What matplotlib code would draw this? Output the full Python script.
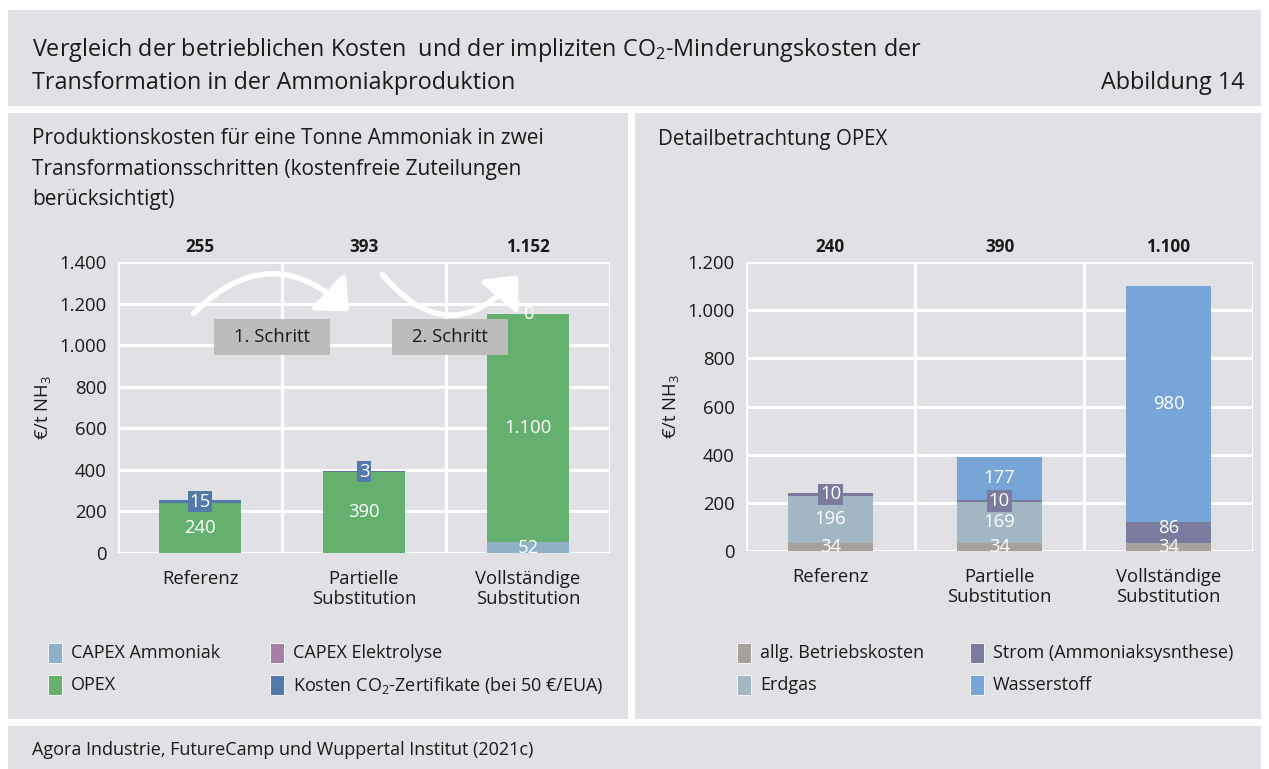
import matplotlib
matplotlib.use("Agg")
import matplotlib.pyplot as plt
from matplotlib.patches import Rectangle, FancyArrowPatch

plt.rcParams['font.family'] = ['Open Sans', 'DejaVu Sans']
plt.rcParams['mathtext.fontset'] = 'custom'
plt.rcParams['mathtext.rm'] = 'Open Sans'
plt.rcParams['mathtext.it'] = 'Open Sans'

# --- data ---
categories = ["Referenz", "Partielle\nSubstitution", "Vollständige\nSubstitution"]

left_series = ["CAPEX Ammoniak", "CAPEX Elektrolyse", "OPEX",
               "Kosten CO$_2$-Zertifikate (bei 50 €/EUA)"]
capex_ammoniak = [0, 0, 52]
capex_elektrolyse = [0, 0, 0]
opex = [240, 390, 1100]
co2_kosten = [15, 3, 0]
left_totals = [255, 393, 1152]

right_series = ["allg. Betriebskosten", "Erdgas", "Strom (Ammoniaksysnthese)", "Wasserstoff"]
betriebskosten = [34, 34, 34]
erdgas = [196, 169, 0]
strom = [10, 10, 86]
wasserstoff = [0, 177, 980]
right_totals = [240, 390, 1100]

left_colors = ["#8fb0c7", "#a57fa8", "#65b06f", "#5379ab"]
right_colors = ["#a6a19d", "#a3b6c3", "#7a7b9f", "#78a5d7"]

PANEL = "#e1e0e5"
TXT = "#1a1a1a"
W, H = 1269, 769

fig = plt.figure(figsize=(W / 100, H / 100), dpi=100)
fig.patch.set_facecolor("white")


def rect_px(x0, y0, x1, y1):
    return [x0 / W, 1 - y1 / H, (x1 - x0) / W, (y1 - y0) / H]


def panel(x0, y0, x1, y1):
    l, b, w, h = rect_px(x0, y0, x1, y1)
    fig.add_artist(Rectangle((l, b), w, h, transform=fig.transFigure,
                             facecolor=PANEL, edgecolor="none", zorder=0))


def ftext(x, y, s, **kw):
    kw.setdefault("va", "center")
    kw.setdefault("color", TXT)
    fig.text(x / W, 1 - y / H, s, **kw)


panel(8, 10, 1261, 106)
panel(8, 113, 628, 719)
panel(635, 113, 1261, 719)
panel(8, 726, 1261, 775)

# titles
ftext(32, 50, "Vergleich der betrieblichen Kosten  und der impliziten CO$_2$-Minderungskosten der", fontsize=16.8)
ftext(32, 83, "Transformation in der Ammoniakproduktion", fontsize=16.8)
ftext(1245, 83, "Abbildung 14", fontsize=16.8, ha="right")
ftext(32, 138, "Produktionskosten für eine Tonne Ammoniak in zwei", fontsize=15)
ftext(32, 169, "Transformationsschritten (kostenfreie Zuteilungen", fontsize=15)
ftext(32, 199, "berücksichtigt)", fontsize=15)
ftext(658, 140, "Detailbetrachtung OPEX", fontsize=14.8)
ftext(32, 750, "Agora Industrie, FutureCamp und Wuppertal Institut (2021c)", fontsize=13)


def fmt(v):
    return f"{v:,.0f}".replace(",", ".")


def stacked(ax, series_vals, colors, always_label, ymax, totals, px_per_unit):
    ax.set_facecolor(PANEL)
    ax.set_xlim(-0.5, 2.5)
    ax.set_ylim(0, ymax)
    ax.set_yticks(range(0, ymax + 1, 200))
    ax.set_yticklabels([fmt(t) for t in range(0, ymax + 1, 200)])
    ax.grid(axis="y", color="white", lw=2.2)
    for xv in [-0.5, 0.5, 1.5, 2.5]:
        ax.axvline(xv, color="white", lw=2.2, zorder=0.5)
    ax.set_axisbelow(True)
    for s in ax.spines.values():
        s.set_visible(False)
    ax.tick_params(length=0, labelsize=13.3, colors=TXT)
    ax.tick_params(axis="y", pad=8)
    ax.tick_params(axis="x", pad=12)
    ax.set_xticks(range(len(categories)))
    ax.set_xticklabels(categories, linespacing=1.15)
    ax.set_ylabel("€/t NH$_3$", fontsize=13.3, color=TXT, labelpad=5)

    min_gap = 19 / px_per_unit  # keep stacked labels from colliding
    x = list(range(len(categories)))
    bottom = [0] * len(categories)
    last_label = [-1e9] * len(categories)
    for k, (vals, col) in enumerate(zip(series_vals, colors)):
        ax.bar(x, vals, 0.5, bottom=bottom, color=col, zorder=2)
        for i, v in enumerate(vals):
            if v > 0 or k in always_label:
                yc = bottom[i] + v / 2
                if v >= 25:
                    yc = max(yc, last_label[i] + min_gap)
                last_label[i] = yc
                kw = {}
                if 0 < v < 25:
                    kw["bbox"] = dict(boxstyle="square,pad=0.1", facecolor=col, edgecolor="none")
                ax.text(i, yc, fmt(v), ha="center", va="center", color="white",
                        fontsize=13.3, zorder=4, **kw)
        bottom = [b + v for b, v in zip(bottom, vals)]
    for i, t in enumerate(totals):
        ax.text(i, ymax * 1.052, fmt(t), ha="center", va="center",
                fontsize=12.3, fontweight="bold", color=TXT, clip_on=False)


# left chart
axL = fig.add_axes(rect_px(118, 262, 610, 553))
stacked(axL, [capex_ammoniak, capex_elektrolyse, opex, co2_kosten], left_colors,
        always_label=[3], ymax=1400, totals=left_totals, px_per_unit=291 / 1400)

# arrows and step boxes
for (x0, y0, x1, y1, rad) in [(-0.05, 1144, 0.92, 1154, -0.5), (1.10, 1351, 1.95, 1346, 0.6)]:
    axL.add_patch(FancyArrowPatch((x0, y0), (x1, y1), connectionstyle=f"arc3,rad={rad}",
                                  arrowstyle="-|>,head_length=0.55,head_width=0.5",
                                  mutation_scale=30, lw=4, color="white",
                                  zorder=3, clip_on=False))
for (bx, label) in [(0.085, "1. Schritt"), (1.17, "2. Schritt")]:
    axL.add_patch(Rectangle((bx, 952), 0.71, 173, facecolor="#bdbcba",
                            edgecolor="none", zorder=3))
    axL.text(bx + 0.355, 1038, label, ha="center", va="center", fontsize=13.3,
             color=TXT, zorder=4)

# right chart
axR = fig.add_axes(rect_px(746, 262, 1253, 551))
stacked(axR, [betriebskosten, erdgas, strom, wasserstoff], right_colors,
        always_label=[], ymax=1200, totals=right_totals, px_per_unit=289 / 1200)


# legends (row-wise, two columns)
def legend(items, colors, xs, ys):
    for n, (lab, col) in enumerate(zip(items, colors)):
        cx = xs[n % 2]
        cy = ys[n // 2]
        l, b, w, h = rect_px(cx, cy - 10, cx + 14, cy + 10)
        fig.add_artist(Rectangle((l, b), w, h, transform=fig.transFigure,
                                 facecolor=col, edgecolor="white", lw=0.6))
        ftext(cx + 23, cy, lab, fontsize=13)


legend(left_series, left_colors, [48, 270], [653, 685])
legend([right_series[0], right_series[2], right_series[1], right_series[3]],
       [right_colors[0], right_colors[2], right_colors[1], right_colors[3]],
       [737, 970], [653, 685])

fig.savefig("out.png", dpi=100, facecolor="white")
